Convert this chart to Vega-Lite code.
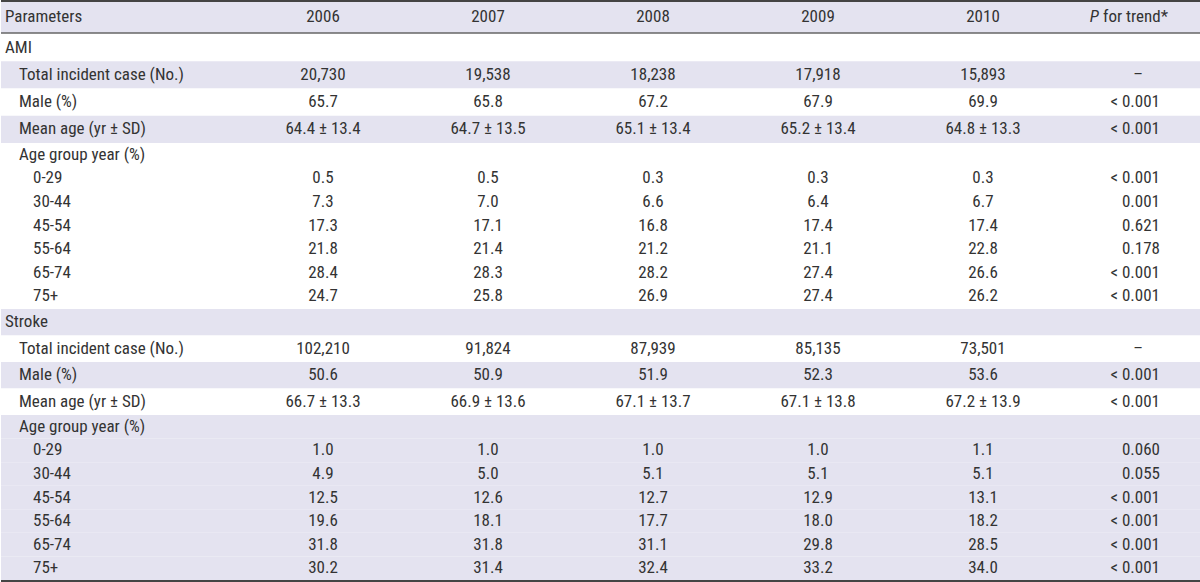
{
  "$schema": "https://vega.github.io/schema/vega-lite/v6.json",
  "padding": 0,
  "spacing": 0,
  "background": "#ffffff",
  "config": {"view": {"stroke": null}, "text": {"font": "'Roboto Condensed', 'DejaVu Sans Condensed', Roboto, sans-serif", "fontSize": 17, "color": "#333333", "baseline": "middle"}, "concat": {"spacing": 0}},
  "data": {"values": [
    {"i": 0, "block": "H", "label": "Parameters", "level": 0, "shade": "s", "2006": "2006", "2007": "2007", "2008": "2008", "2009": "2009", "2010": "2010", "p": ""},
    {"i": 1, "block": "A1", "label": "AMI", "level": 0, "shade": "w", "2006": "", "2007": "", "2008": "", "2009": "", "2010": "", "p": ""},
    {"i": 2, "block": "A1", "label": "Total incident case (No.)", "level": 1, "shade": "s", "2006": "20,730", "2007": "19,538", "2008": "18,238", "2009": "17,918", "2010": "15,893", "p": "–"},
    {"i": 3, "block": "A1", "label": "Male (%)", "level": 1, "shade": "w", "2006": "65.7", "2007": "65.8", "2008": "67.2", "2009": "67.9", "2010": "69.9", "p": "< 0.001"},
    {"i": 4, "block": "A1", "label": "Mean age (yr ± SD)", "level": 1, "shade": "s", "2006": "64.4 ± 13.4", "2007": "64.7 ± 13.5", "2008": "65.1 ± 13.4", "2009": "65.2 ± 13.4", "2010": "64.8 ± 13.3", "p": "< 0.001"},
    {"i": 5, "block": "A2", "label": "Age group year (%)", "level": 1, "shade": "w", "2006": "", "2007": "", "2008": "", "2009": "", "2010": "", "p": ""},
    {"i": 6, "block": "A2", "label": "0-29", "level": 2, "shade": "w", "2006": "0.5", "2007": "0.5", "2008": "0.3", "2009": "0.3", "2010": "0.3", "p": "< 0.001"},
    {"i": 7, "block": "A2", "label": "30-44", "level": 2, "shade": "w", "2006": "7.3", "2007": "7.0", "2008": "6.6", "2009": "6.4", "2010": "6.7", "p": "0.001"},
    {"i": 8, "block": "A2", "label": "45-54", "level": 2, "shade": "w", "2006": "17.3", "2007": "17.1", "2008": "16.8", "2009": "17.4", "2010": "17.4", "p": "0.621"},
    {"i": 9, "block": "A2", "label": "55-64", "level": 2, "shade": "w", "2006": "21.8", "2007": "21.4", "2008": "21.2", "2009": "21.1", "2010": "22.8", "p": "0.178"},
    {"i": 10, "block": "A2", "label": "65-74", "level": 2, "shade": "w", "2006": "28.4", "2007": "28.3", "2008": "28.2", "2009": "27.4", "2010": "26.6", "p": "< 0.001"},
    {"i": 11, "block": "A2", "label": "75+", "level": 2, "shade": "w", "2006": "24.7", "2007": "25.8", "2008": "26.9", "2009": "27.4", "2010": "26.2", "p": "< 0.001"},
    {"i": 12, "block": "S1", "label": "Stroke", "level": 0, "shade": "s", "2006": "", "2007": "", "2008": "", "2009": "", "2010": "", "p": ""},
    {"i": 13, "block": "S1", "label": "Total incident case (No.)", "level": 1, "shade": "w", "2006": "102,210", "2007": "91,824", "2008": "87,939", "2009": "85,135", "2010": "73,501", "p": "–"},
    {"i": 14, "block": "S1", "label": "Male (%)", "level": 1, "shade": "s", "2006": "50.6", "2007": "50.9", "2008": "51.9", "2009": "52.3", "2010": "53.6", "p": "< 0.001"},
    {"i": 15, "block": "S1", "label": "Mean age (yr ± SD)", "level": 1, "shade": "w", "2006": "66.7 ± 13.3", "2007": "66.9 ± 13.6", "2008": "67.1 ± 13.7", "2009": "67.1 ± 13.8", "2010": "67.2 ± 13.9", "p": "< 0.001"},
    {"i": 16, "block": "S2", "label": "Age group year (%)", "level": 1, "shade": "s", "2006": "", "2007": "", "2008": "", "2009": "", "2010": "", "p": ""},
    {"i": 17, "block": "S2", "label": "0-29", "level": 2, "shade": "s", "2006": "1.0", "2007": "1.0", "2008": "1.0", "2009": "1.0", "2010": "1.1", "p": "0.060"},
    {"i": 18, "block": "S2", "label": "30-44", "level": 2, "shade": "s", "2006": "4.9", "2007": "5.0", "2008": "5.1", "2009": "5.1", "2010": "5.1", "p": "0.055"},
    {"i": 19, "block": "S2", "label": "45-54", "level": 2, "shade": "s", "2006": "12.5", "2007": "12.6", "2008": "12.7", "2009": "12.9", "2010": "13.1", "p": "< 0.001"},
    {"i": 20, "block": "S2", "label": "55-64", "level": 2, "shade": "s", "2006": "19.6", "2007": "18.1", "2008": "17.7", "2009": "18.0", "2010": "18.2", "p": "< 0.001"},
    {"i": 21, "block": "S2", "label": "65-74", "level": 2, "shade": "s", "2006": "31.8", "2007": "31.8", "2008": "31.1", "2009": "29.8", "2010": "28.5", "p": "< 0.001"},
    {"i": 22, "block": "S2", "label": "75+", "level": 2, "shade": "s", "2006": "30.2", "2007": "31.4", "2008": "32.4", "2009": "33.2", "2010": "34.0", "p": "< 0.001"}
  ]},
  "vconcat": [
    {
      "width": 1200, "height": 33,
      "transform": [{"filter": "datum.block == 'H'"}],
      "resolve": {"scale": {"x": "independent"}},
      "layer": [
        {"mark": "rect", "encoding": {"y": {"field": "i", "type": "ordinal", "axis": null, "scale": {"type": "band", "paddingInner": 0, "paddingOuter": 0}}, "color": {"field": "shade", "type": "nominal", "legend": null, "scale": {"domain": ["w", "s"], "range": ["#ffffff", "#e4e3f0"]}}}},
        {"mark": {"type": "text", "align": "left"}, "encoding": {"x": {"field": "level", "type": "ordinal", "axis": null, "scale": {"type": "point", "padding": 0, "domain": [0, 1, 2], "range": [4, 32]}}, "y": {"field": "i", "type": "ordinal", "axis": null}, "text": {"field": "label"}}},
        {"transform": [{"fold": ["2006", "2007", "2008", "2009", "2010"], "as": ["year", "val"]}], "mark": {"type": "text", "align": "center"}, "encoding": {"x": {"field": "year", "type": "nominal", "axis": null, "scale": {"type": "point", "padding": 0, "domain": ["2006", "2007", "2008", "2009", "2010", "P"], "range": [322, 1147]}}, "y": {"field": "i", "type": "ordinal", "axis": null}, "text": {"field": "val"}}},
        {"mark": {"type": "text", "align": "right", "fontStyle": "italic", "dx": -49}, "encoding": {"x": {"datum": "P", "type": "nominal", "axis": null, "scale": {"type": "point", "padding": 0, "domain": ["2006", "2007", "2008", "2009", "2010", "P"], "range": [322, 1147]}}, "y": {"field": "i", "type": "ordinal", "axis": null}, "text": {"value": "P"}}},
        {"mark": {"type": "text", "align": "left", "dx": -45}, "encoding": {"x": {"datum": "P", "type": "nominal", "axis": null, "scale": {"type": "point", "padding": 0, "domain": ["2006", "2007", "2008", "2009", "2010", "P"], "range": [322, 1147]}}, "y": {"field": "i", "type": "ordinal", "axis": null}, "text": {"value": "for trend*"}}},
        {"mark": {"type": "rule", "color": "#444444", "strokeWidth": 2, "yOffset": 1}, "encoding": {"y": {"field": "i", "type": "ordinal", "axis": null, "bandPosition": 0}}},
        {"mark": {"type": "rule", "color": "#666666", "strokeWidth": 1.5}, "encoding": {"y": {"field": "i", "type": "ordinal", "axis": null, "bandPosition": 1}}}
      ]
    },
    {
      "width": 1200, "height": 109,
      "transform": [{"filter": "datum.block == 'A1'"}],
      "resolve": {"scale": {"x": "independent"}},
      "layer": [
        {"mark": "rect", "encoding": {"y": {"field": "i", "type": "ordinal", "axis": null, "scale": {"type": "band", "paddingInner": 0, "paddingOuter": 0}}, "color": {"field": "shade", "type": "nominal", "legend": null, "scale": {"domain": ["w", "s"], "range": ["#ffffff", "#e4e3f0"]}}}},
        {"mark": {"type": "text", "align": "left"}, "encoding": {"x": {"field": "level", "type": "ordinal", "axis": null, "scale": {"type": "point", "padding": 0, "domain": [0, 1, 2], "range": [4, 32]}}, "y": {"field": "i", "type": "ordinal", "axis": null}, "text": {"field": "label"}}},
        {"transform": [{"fold": ["2006", "2007", "2008", "2009", "2010"], "as": ["year", "val"]}], "mark": {"type": "text", "align": "center"}, "encoding": {"x": {"field": "year", "type": "nominal", "axis": null, "scale": {"type": "point", "padding": 0, "domain": ["2006", "2007", "2008", "2009", "2010", "P"], "range": [322, 1147]}}, "y": {"field": "i", "type": "ordinal", "axis": null}, "text": {"field": "val"}}},
        {"transform": [{"filter": "datum.p != '' && datum.p != '–'"}], "mark": {"type": "text", "align": "right", "dx": 12}, "encoding": {"x": {"datum": "P", "type": "nominal", "axis": null, "scale": {"type": "point", "padding": 0, "domain": ["2006", "2007", "2008", "2009", "2010", "P"], "range": [322, 1147]}}, "y": {"field": "i", "type": "ordinal", "axis": null}, "text": {"field": "p"}}},
        {"transform": [{"filter": "datum.p == '–'"}], "mark": {"type": "text", "align": "center", "dx": -10}, "encoding": {"x": {"datum": "P", "type": "nominal", "axis": null, "scale": {"type": "point", "padding": 0, "domain": ["2006", "2007", "2008", "2009", "2010", "P"], "range": [322, 1147]}}, "y": {"field": "i", "type": "ordinal", "axis": null}, "text": {"field": "p"}}}
      ]
    },
    {
      "width": 1200, "height": 165,
      "transform": [{"filter": "datum.block == 'A2'"}],
      "resolve": {"scale": {"x": "independent"}},
      "layer": [
        {"mark": "rect", "encoding": {"y": {"field": "i", "type": "ordinal", "axis": null, "scale": {"type": "band", "paddingInner": 0, "paddingOuter": 0}}, "color": {"field": "shade", "type": "nominal", "legend": null, "scale": {"domain": ["w", "s"], "range": ["#ffffff", "#e4e3f0"]}}}},
        {"mark": {"type": "text", "align": "left"}, "encoding": {"x": {"field": "level", "type": "ordinal", "axis": null, "scale": {"type": "point", "padding": 0, "domain": [0, 1, 2], "range": [4, 32]}}, "y": {"field": "i", "type": "ordinal", "axis": null}, "text": {"field": "label"}}},
        {"transform": [{"fold": ["2006", "2007", "2008", "2009", "2010"], "as": ["year", "val"]}], "mark": {"type": "text", "align": "center"}, "encoding": {"x": {"field": "year", "type": "nominal", "axis": null, "scale": {"type": "point", "padding": 0, "domain": ["2006", "2007", "2008", "2009", "2010", "P"], "range": [322, 1147]}}, "y": {"field": "i", "type": "ordinal", "axis": null}, "text": {"field": "val"}}},
        {"transform": [{"filter": "datum.p != '' && datum.p != '–'"}], "mark": {"type": "text", "align": "right", "dx": 12}, "encoding": {"x": {"datum": "P", "type": "nominal", "axis": null, "scale": {"type": "point", "padding": 0, "domain": ["2006", "2007", "2008", "2009", "2010", "P"], "range": [322, 1147]}}, "y": {"field": "i", "type": "ordinal", "axis": null}, "text": {"field": "p"}}}
      ]
    },
    {
      "width": 1200, "height": 106,
      "transform": [{"filter": "datum.block == 'S1'"}],
      "resolve": {"scale": {"x": "independent"}},
      "layer": [
        {"mark": "rect", "encoding": {"y": {"field": "i", "type": "ordinal", "axis": null, "scale": {"type": "band", "paddingInner": 0, "paddingOuter": 0}}, "color": {"field": "shade", "type": "nominal", "legend": null, "scale": {"domain": ["w", "s"], "range": ["#ffffff", "#e4e3f0"]}}}},
        {"mark": {"type": "text", "align": "left"}, "encoding": {"x": {"field": "level", "type": "ordinal", "axis": null, "scale": {"type": "point", "padding": 0, "domain": [0, 1, 2], "range": [4, 32]}}, "y": {"field": "i", "type": "ordinal", "axis": null}, "text": {"field": "label"}}},
        {"transform": [{"fold": ["2006", "2007", "2008", "2009", "2010"], "as": ["year", "val"]}], "mark": {"type": "text", "align": "center"}, "encoding": {"x": {"field": "year", "type": "nominal", "axis": null, "scale": {"type": "point", "padding": 0, "domain": ["2006", "2007", "2008", "2009", "2010", "P"], "range": [322, 1147]}}, "y": {"field": "i", "type": "ordinal", "axis": null}, "text": {"field": "val"}}},
        {"transform": [{"filter": "datum.p != '' && datum.p != '–'"}], "mark": {"type": "text", "align": "right", "dx": 12}, "encoding": {"x": {"datum": "P", "type": "nominal", "axis": null, "scale": {"type": "point", "padding": 0, "domain": ["2006", "2007", "2008", "2009", "2010", "P"], "range": [322, 1147]}}, "y": {"field": "i", "type": "ordinal", "axis": null}, "text": {"field": "p"}}},
        {"transform": [{"filter": "datum.p == '–'"}], "mark": {"type": "text", "align": "center", "dx": -10}, "encoding": {"x": {"datum": "P", "type": "nominal", "axis": null, "scale": {"type": "point", "padding": 0, "domain": ["2006", "2007", "2008", "2009", "2010", "P"], "range": [322, 1147]}}, "y": {"field": "i", "type": "ordinal", "axis": null}, "text": {"field": "p"}}}
      ]
    },
    {
      "width": 1200, "height": 165,
      "transform": [{"filter": "datum.block == 'S2'"}],
      "resolve": {"scale": {"x": "independent"}},
      "layer": [
        {"mark": "rect", "encoding": {"y": {"field": "i", "type": "ordinal", "axis": null, "scale": {"type": "band", "paddingInner": 0, "paddingOuter": 0}}, "color": {"field": "shade", "type": "nominal", "legend": null, "scale": {"domain": ["w", "s"], "range": ["#ffffff", "#e4e3f0"]}}}},
        {"mark": {"type": "text", "align": "left"}, "encoding": {"x": {"field": "level", "type": "ordinal", "axis": null, "scale": {"type": "point", "padding": 0, "domain": [0, 1, 2], "range": [4, 32]}}, "y": {"field": "i", "type": "ordinal", "axis": null}, "text": {"field": "label"}}},
        {"transform": [{"fold": ["2006", "2007", "2008", "2009", "2010"], "as": ["year", "val"]}], "mark": {"type": "text", "align": "center"}, "encoding": {"x": {"field": "year", "type": "nominal", "axis": null, "scale": {"type": "point", "padding": 0, "domain": ["2006", "2007", "2008", "2009", "2010", "P"], "range": [322, 1147]}}, "y": {"field": "i", "type": "ordinal", "axis": null}, "text": {"field": "val"}}},
        {"transform": [{"filter": "datum.p != '' && datum.p != '–'"}], "mark": {"type": "text", "align": "right", "dx": 12}, "encoding": {"x": {"datum": "P", "type": "nominal", "axis": null, "scale": {"type": "point", "padding": 0, "domain": ["2006", "2007", "2008", "2009", "2010", "P"], "range": [322, 1147]}}, "y": {"field": "i", "type": "ordinal", "axis": null}, "text": {"field": "p"}}},
        {"transform": [{"filter": "datum.i == 22"}], "mark": {"type": "rule", "color": "#444444", "strokeWidth": 2, "yOffset": 1}, "encoding": {"y": {"field": "i", "type": "ordinal", "axis": null, "bandPosition": 1}}}
      ]
    }
  ]
}
